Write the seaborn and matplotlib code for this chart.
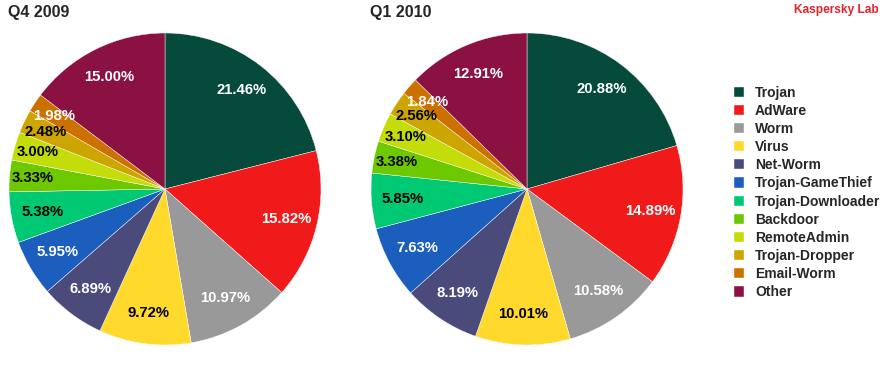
import matplotlib
matplotlib.use("Agg")
import matplotlib.pyplot as plt
import seaborn as sns
import numpy as np

categories = ["Trojan", "AdWare", "Worm", "Virus", "Net-Worm", "Trojan-GameThief",
              "Trojan-Downloader", "Backdoor", "RemoteAdmin", "Trojan-Dropper",
              "Email-Worm", "Other"]
q4_2009 = [21.46, 15.82, 10.97, 9.72, 6.89, 5.95, 5.38, 3.33, 3.00, 2.48, 1.98, 15.00]
q1_2010 = [20.88, 14.89, 10.58, 10.01, 8.19, 7.63, 5.85, 3.38, 3.10, 2.56, 1.84, 12.91]
titles = ["Q4 2009", "Q1 2010"]

colors = ["#064a3c", "#f01a1a", "#999999", "#ffd92c", "#4a4b7b", "#1c5ebe",
          "#00c873", "#6dc800", "#c4dc0a", "#cca500", "#cc7000", "#8a1142"]
label_colors = ["white", "white", "white", "black", "white", "white",
                "black", "black", "black", "black", "white", "white"]

sns.set_style("white")
plt.rcParams["font.family"] = ["Liberation Sans", "DejaVu Sans"]
palette = sns.color_palette(colors)

fig = plt.figure(figsize=(8.86, 3.72), dpi=100)
ax1 = fig.add_axes([9 / 886, 27 / 372, 312 / 886, 312 / 372])
ax2 = fig.add_axes([371 / 886, 27 / 372, 312 / 886, 312 / 372])

wedges = None
for ax, vals, title, tx in zip([ax1, ax2], [q4_2009, q1_2010], titles, [8, 370]):
    w, _ = ax.pie(vals, colors=palette, startangle=90, counterclock=False,
                  wedgeprops=dict(edgecolor="white", linewidth=0.3))
    # percentage labels placed along each wedge's bisector
    total = sum(vals)
    start = 90.0
    for v, c in zip(vals, label_colors):
        span = v / total * 360
        mid = np.deg2rad(start - span / 2)
        r = 0.80 if v > 4 else 0.85
        ax.text(r * np.cos(mid), r * np.sin(mid), f"{v:.2f}%", ha="center", va="center",
                color=c, fontsize=10.7, fontweight="bold")
        start -= span
    ax.set_aspect("equal")
    ax.set_xlim(-1, 1)
    ax.set_ylim(-1, 1)
    fig.text(tx / 886, 1 - 13 / 372, title, fontsize=11.5, fontweight="bold",
             ha="left", va="center")
    wedges = w

fig.text(879 / 886, 1 - 10 / 372, "Kaspersky Lab", color="#e8202a", fontsize=8.6,
         fontweight="bold", ha="right", va="center")

fig.legend(wedges, categories, loc="upper left", bbox_to_anchor=(728 / 886, 1 - 80 / 372),
           frameon=False, prop=dict(weight="bold", size=10), handlelength=0.75,
           handleheight=0.75, handletextpad=0.8, labelspacing=0.3, borderaxespad=0)

fig.savefig("out.png", dpi=100, facecolor="white")
